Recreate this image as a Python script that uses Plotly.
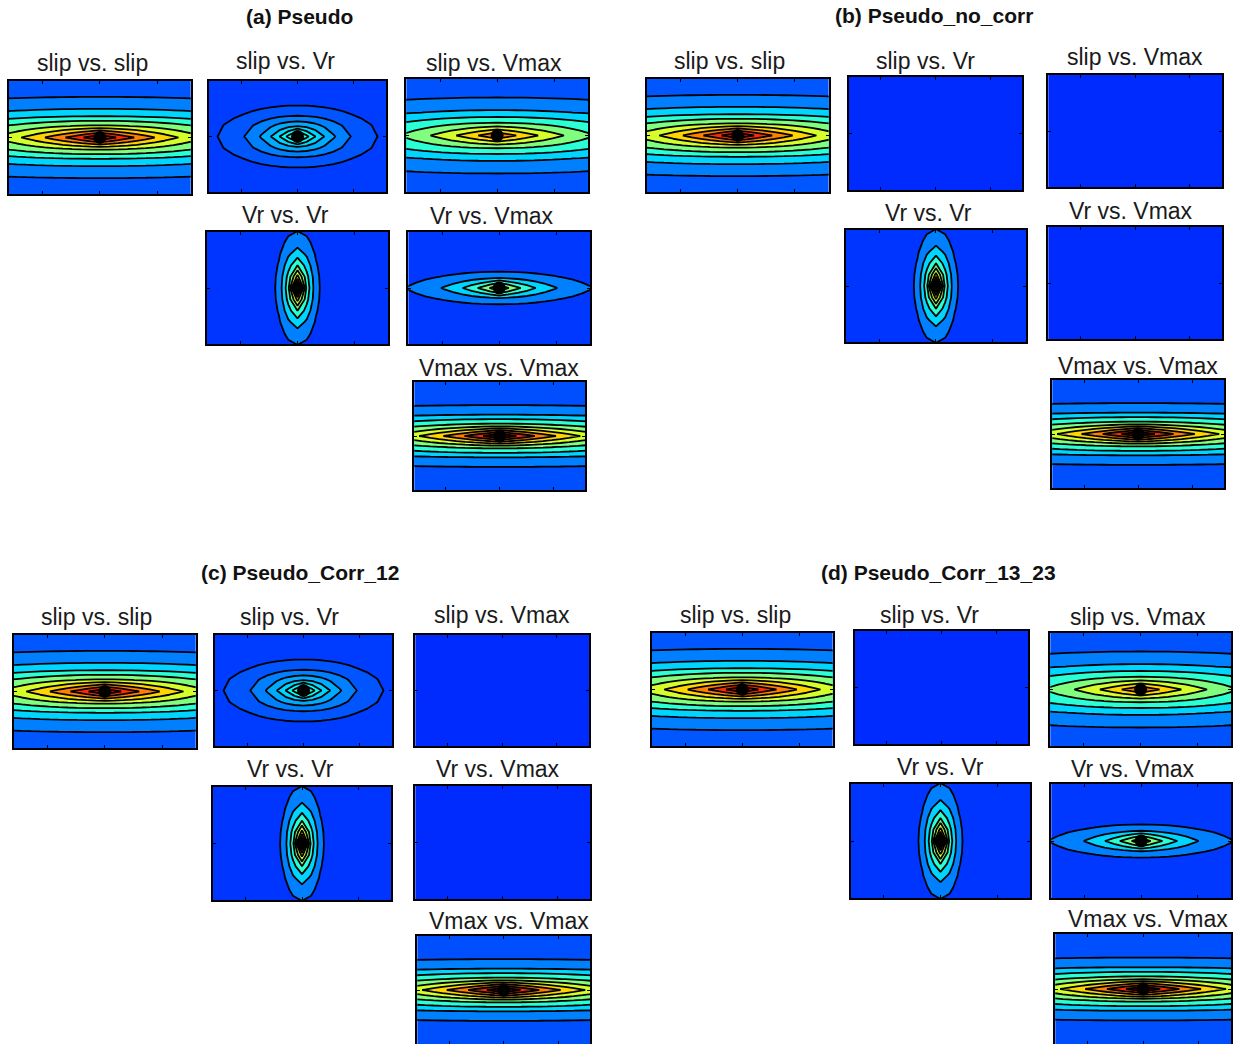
import numpy as np
import plotly.graph_objects as go

# ---------------------------------------------------------------------------
# Data: correlation structure between the three source parameters
# ---------------------------------------------------------------------------
GROUP_TITLES = ["(a) Pseudo", "(b) Pseudo_no_corr",
                "(c) Pseudo_Corr_12", "(d) Pseudo_Corr_13_23"]
PAIR_TITLES = ["slip vs. slip", "slip vs. Vr", "slip vs. Vmax",
               "Vr vs. Vr", "Vr vs. Vmax", "Vmax vs. Vmax"]

# peak correlation coefficient of each pair, per model
RHO_A = [1.0, 0.40, 0.80, 1.0, 0.60, 1.0]
RHO_B = [1.0, 0.00, 0.00, 1.0, 0.00, 1.0]
RHO_C = [1.0, 0.40, 0.00, 1.0, 0.00, 1.0]
RHO_D = [1.0, 0.00, 0.80, 1.0, 0.60, 1.0]
RHO = [RHO_A, RHO_B, RHO_C, RHO_D]

# exponential decay rate along strike (x) and down dip (z), per pair
DECAY_X = [0.60, 2.35, 0.65, 10.0, 1.75, 0.55]
DECAY_Z = [3.33, 3.90, 3.20, 2.30, 7.00, 4.20]

# contour interval per pair
LEVEL_STEP = [0.10, 0.05, 0.10, 0.10, 0.10, 0.10]

# lag of the correlation peak (zero lag)
PEAK_LAG_X = [0.0]
PEAK_LAG_Z = [0.0]

# colour limits shared by every panel
CLIM = (-0.2, 1.0)

# ---------------------------------------------------------------------------
# Layout (pixel boxes of each panel: x0, x1, y0, y1) and title anchors
# ---------------------------------------------------------------------------
W, H = 1233, 1044
PANEL_BOXES = [
    [(9, 191, 81, 194), (209, 387, 81, 192), (407, 589, 79, 192),
     (207, 389, 232, 344), (409, 591, 232, 344), (415, 586, 382, 490)],
    [(648, 830, 79, 192), (850, 1024, 77, 190), (1050, 1224, 75, 187),
     (847, 1028, 230, 342), (1050, 1224, 227, 339), (1054, 1226, 380, 488)],
    [(14, 196, 635, 748), (215, 393, 635, 746), (416, 590, 635, 746),
     (213, 392, 787, 900), (416, 591, 786, 899), (418, 591, 936, 1046)],
    [(653, 834, 633, 746), (856, 1030, 631, 744), (1052, 1235, 633, 746),
     (852, 1032, 784, 898), (1053, 1235, 784, 898), (1057, 1235, 934, 1046)],
]
PANEL_TITLE_POS = [
    [(93, 63), (286, 61), (495, 63), (286, 215), (493, 216), (500, 368)],
    [(731, 61), (927, 61), (1137, 57), (930, 213), (1133, 211), (1140, 366)],
    [(97, 617), (290, 617), (503, 615), (291, 769), (499, 769), (510, 921)],
    [(737, 615), (931, 615), (1140, 617), (942, 767), (1135, 769), (1150, 919)],
]
GROUP_TITLE_POS = [(300, 16), (936, 15), (300, 572), (940, 572)]

# lag grid on which the correlation is sampled (coarse, linearly contoured)
NX, NZ = 21, 11
xg = np.linspace(-1.0, 1.0, NX)
zg = np.linspace(-1.0, 1.0, NZ)
XX, ZZ = np.meshgrid(xg, zg)
AX_RANGE = [-0.985, 0.985]

JET_T = [0.0, 0.125, 0.375, 0.625, 0.875, 1.0]
JET_RGB = [(0, 0, 0.5), (0, 0, 1), (0, 1, 1), (1, 1, 0), (1, 0, 0), (0.5, 0, 0)]


def value_color(v):
    t = (v - CLIM[0]) / (CLIM[1] - CLIM[0])
    t = min(max(t, 0.0), 1.0)
    rgb = [np.interp(t, JET_T, [c[k] for c in JET_RGB]) for k in range(3)]
    return "rgb({},{},{})".format(*[int(round(255 * c)) for c in rgb])


def px_x(p):
    return min(max(p / W, 0.0), 1.0)


def px_y(p):
    return min(max(1.0 - p / H, 0.0), 1.0)


fig = go.Figure()
annotations = []
axis_id = 0

for g in range(4):
    gx, gy = GROUP_TITLE_POS[g]
    annotations.append(dict(
        text="<b>" + GROUP_TITLES[g] + "</b>", x=px_x(gx), y=px_y(gy),
        xref="paper", yref="paper", xanchor="center", yanchor="middle",
        showarrow=False, font=dict(family="Liberation Sans", size=21, color="#111")))

    for p in range(6):
        axis_id += 1
        xa = "x" if axis_id == 1 else f"x{axis_id}"
        ya = "y" if axis_id == 1 else f"y{axis_id}"
        rho = RHO[g][p]

        if rho == 0.0:
            z = np.zeros_like(XX)
            c0 = value_color(0.0)
            fig.add_trace(go.Heatmap(
                x=xg, y=zg, z=z, colorscale=[[0, c0], [1, c0]],
                showscale=False, hoverinfo="skip", xaxis=xa, yaxis=ya))
        else:
            r = np.sqrt((DECAY_X[p] * XX) ** 2 + (DECAY_Z[p] * ZZ) ** 2)
            z = rho * np.exp(-r)
            step = LEVEL_STEP[p]
            levels = np.arange(step, rho - 1e-9, step)
            n = len(levels)
            # lowest band: colour of its mean sampled value;
            # every other band takes the colour of the level beneath it
            low_val = float(z[z < levels[0]].mean())
            colors = [value_color(low_val)] + [value_color(v) for v in levels]
            cscale = [[j / n, colors[j]] for j in range(n + 1)]
            fig.add_trace(go.Contour(
                x=xg, y=zg, z=z, autocontour=False,
                contours=dict(start=levels[0], end=levels[-1], size=step,
                              coloring="fill", showlines=True),
                colorscale=cscale, showscale=False,
                line=dict(color="black", width=1.8, smoothing=0),
                hoverinfo="skip", xaxis=xa, yaxis=ya))
            # zero-lag peak
            fig.add_trace(go.Scatter(
                x=PEAK_LAG_X, y=PEAK_LAG_Z, mode="markers",
                marker=dict(color="black", size=13, symbol="circle"),
                hoverinfo="skip", xaxis=xa, yaxis=ya))

        x0, x1, y0, y1 = PANEL_BOXES[g][p]
        common = dict(showgrid=False, zeroline=False, showticklabels=False,
                      ticks="inside", ticklen=3, tickcolor="black", tickwidth=1,
                      showline=True, linecolor="black", linewidth=1.8,
                      mirror="ticks", range=AX_RANGE, fixedrange=True)
        fig.layout[("xaxis" if axis_id == 1 else f"xaxis{axis_id}")] = dict(
            domain=[px_x(x0), px_x(x1)], anchor=ya,
            tickvals=[-0.62, 0.0, 0.62], **common)
        fig.layout[("yaxis" if axis_id == 1 else f"yaxis{axis_id}")] = dict(
            domain=[px_y(y1), px_y(y0)], anchor=xa,
            tickvals=[0.0], **common)

        tx, ty = PANEL_TITLE_POS[g][p]
        annotations.append(dict(
            text=PAIR_TITLES[p], x=px_x(tx), y=px_y(ty),
            xref="paper", yref="paper", xanchor="center", yanchor="middle",
            showarrow=False, font=dict(family="Liberation Sans", size=23, color="#1a1a1a")))

fig.update_layout(
    width=W, height=H, margin=dict(l=0, r=0, t=0, b=0),
    paper_bgcolor="white", plot_bgcolor="white",
    showlegend=False, annotations=annotations)

fig.write_html("out.html")
